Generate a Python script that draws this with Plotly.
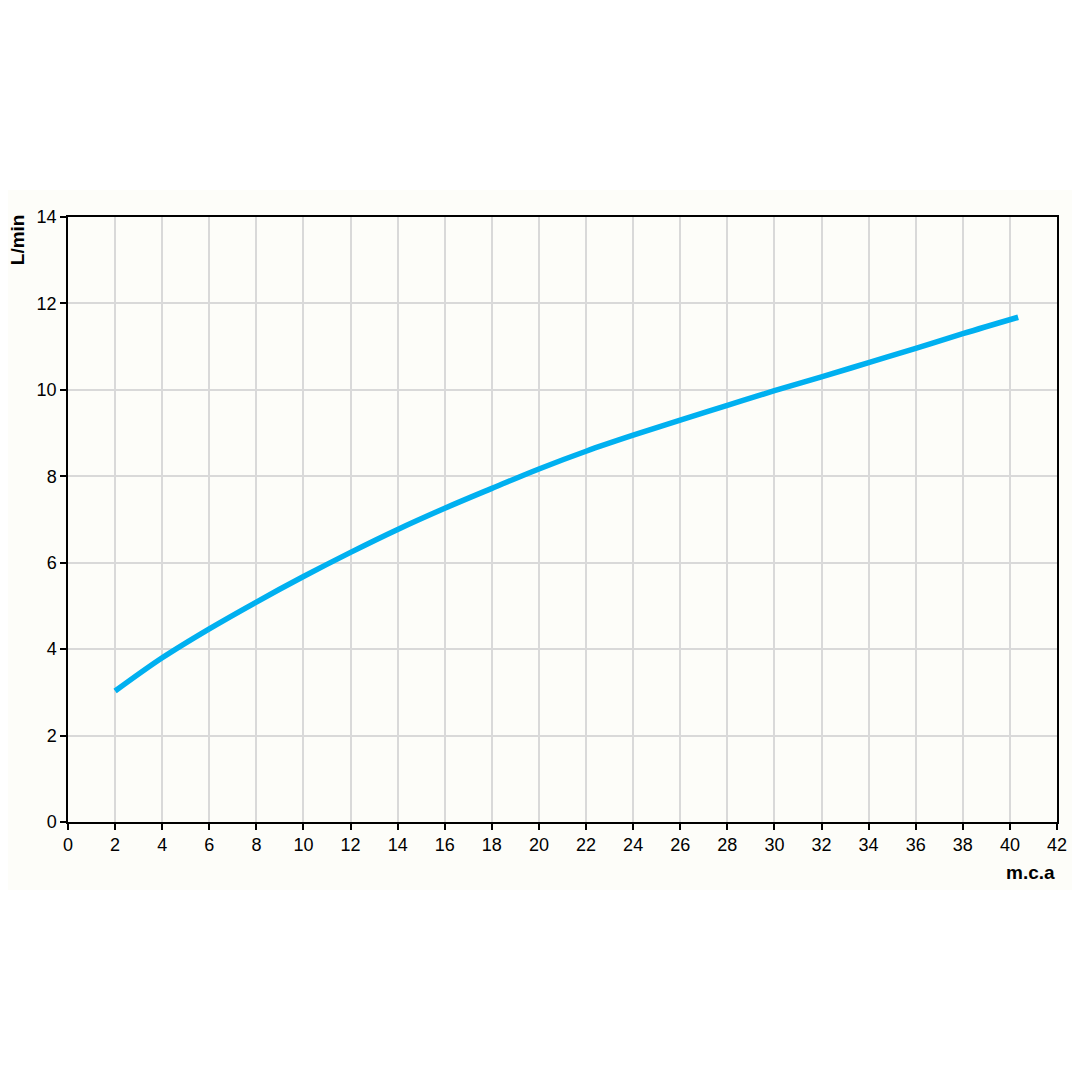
import plotly.graph_objects as go

pressure_mca = [2, 4, 6, 8, 10, 12, 14, 16, 18, 20, 22, 24, 26, 28, 30, 32, 34, 36, 38, 40.35]
flow_lmin = [3.03, 3.80, 4.47, 5.09, 5.68, 6.24, 6.77, 7.26, 7.72, 8.17, 8.58, 8.95,
             9.30, 9.64, 9.98, 10.30, 10.63, 10.96, 11.30, 11.68]

x_ticks = list(range(0, 43, 2))
y_ticks = list(range(0, 15, 2))

fig = go.Figure()
fig.add_trace(go.Scatter(x=pressure_mca, y=flow_lmin, mode="lines",
                         line=dict(color="#00b0f0", width=5.5, shape="spline", smoothing=1.0),
                         showlegend=False, hoverinfo="skip"))

font = dict(family="Liberation Sans, Arial, sans-serif", size=18, color="#000000")
bold = dict(family="Liberation Sans, Arial, sans-serif", size=19, color="#000000")

fig.update_layout(
    width=1080, height=1080,
    margin=dict(l=60, r=31, t=209, b=266),
    paper_bgcolor="#ffffff",
    plot_bgcolor="#fdfdf9",
    font=font,
    xaxis=dict(range=[0, 42], tickvals=x_ticks, showgrid=True, gridcolor="#d9d9d9", gridwidth=1.5,
               showline=True, linecolor="#000000", linewidth=1.5, mirror=True,
               ticks="outside", ticklen=6, tickcolor="#000000", tickwidth=1.5,
               zeroline=False, tickfont=font),
    yaxis=dict(range=[0, 14], tickvals=y_ticks, showgrid=True, gridcolor="#d9d9d9", gridwidth=1.5,
               showline=True, linecolor="#000000", linewidth=1.5, mirror=True,
               ticks="outside", ticklen=6, tickcolor="#000000", tickwidth=1.5,
               zeroline=False, tickfont=font),
    shapes=[dict(type="rect", xref="paper", yref="paper", x0=-0.0657, x1=1.0202,
                 y0=-0.1124, y1=1.0446, fillcolor="#fdfdf9", line=dict(width=0), layer="below")],
    annotations=[
        dict(text="<b>L/min</b>", xref="paper", yref="paper", x=-0.051, y=1.008,
             xanchor="center", yanchor="top", textangle=-90, showarrow=False, font=bold),
        dict(text="<b>m.c.a</b>", xref="paper", yref="paper", x=0.9995, y=-0.084,
             xanchor="right", yanchor="middle", showarrow=False, font=bold),
    ],
)

fig.write_html("out.html")
